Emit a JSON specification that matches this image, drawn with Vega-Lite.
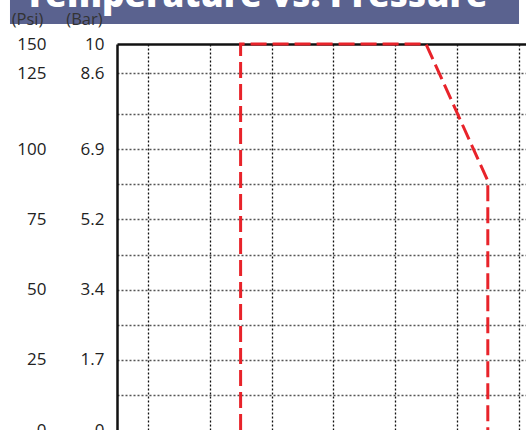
{
  "$schema": "https://vega.github.io/schema/vega-lite/v6.json",
  "autosize": {"type": "none"},
  "padding": {"left": 117, "top": 44, "right": 0, "bottom": 0},
  "width": 409,
  "height": 386,
  "background": "white",
  "config": {"view": {"stroke": null}, "font": "Open Sans"},
  "datasets": {
    "curve": [
      {"temp": 4, "level": 0},
      {"temp": 4, "level": 11},
      {"temp": 10, "level": 11},
      {"temp": 12, "level": 7.1},
      {"temp": 12, "level": 0}
    ],
    "banner": [{"title": "Temperature vs. Pressure"}]
  },
  "resolve": {"axis": {"y": "independent"}},
  "layer": [
    {
      "data": {"name": "curve"},
      "mark": {"type": "line", "color": "#e8232a", "strokeWidth": 3, "strokeDash": [16, 6]},
      "encoding": {
        "x": {
          "field": "temp", "type": "quantitative",
          "scale": {"domain": [0, 13.236], "nice": false, "zero": false},
          "axis": {
            "orient": "top", "title": null, "labels": false, "ticks": false,
            "values": [1, 2, 3, 4, 5, 6, 7, 8, 9, 10, 11, 12, 13],
            "grid": true, "gridColor": "#111", "gridDash": [2, 2], "gridWidth": 1.3,
            "domain": true, "domainColor": "#111", "domainWidth": 2.5
          }
        },
        "y": {
          "field": "level", "type": "quantitative",
          "scale": {"domain": [0, 11], "nice": false, "zero": false},
          "axis": {
            "orient": "left",
            "title": null, "labels": false, "ticks": false,
            "values": [1, 2, 3, 4, 5, 6, 7, 8, 9, 10.17],
            "grid": true, "gridColor": "#555", "gridDash": [2, 2], "gridWidth": 1.3,
            "domain": true, "domainColor": "#111", "domainWidth": 2.5
          }
        }
      }
    },
    {
      "data": {"name": "banner"},
      "mark": {"type": "rect", "color": "#5a628f"},
      "encoding": {
        "x": {"datum": -3.463, "type": "quantitative", "scale": {"domain": [0, 13.236], "nice": false, "zero": false}},
        "x2": {"datum": 13.01},
        "y": {
          "datum": 11.57, "type": "quantitative",
          "scale": {"domain": [0, 11], "nice": false, "zero": false},
          "axis": {
            "orient": "left",
            "zindex": 1,
            "values": [0, 2, 4, 6, 8, 10.17, 11],
            "labelExpr": "datum.value == 0 ? '0' : datum.value == 2 ? '1.7' : datum.value == 4 ? '3.4' : datum.value == 6 ? '5.2' : datum.value == 8 ? '6.9' : datum.value == 11 ? '10' : '8.6'",
            "grid": false, "domain": false, "ticks": false,
            "labelPadding": 13, "labelFontSize": 17, "labelColor": "#222", "labelFont": "Open Sans",
            "labelAlign": "right", "labelBaseline": "middle",
            "title": "(Bar)", "titleAngle": 0, "titleX": -33, "titleY": -25,
            "titleAlign": "center", "titleBaseline": "middle",
            "titleFontSize": 16.5, "titleFontWeight": "normal", "titleColor": "#333", "titleFont": "Open Sans"
          }
        },
        "y2": {"datum": 13}
      }
    },
    {
      "data": {"name": "banner"},
      "mark": {"type": "text", "color": "white", "font": "Open Sans", "fontWeight": 800, "fontSize": 35, "align": "center", "baseline": "alphabetic"},
      "encoding": {
        "text": {"field": "title"},
        "x": {"datum": 4.5, "type": "quantitative", "scale": {"domain": [0, 13.236], "nice": false, "zero": false}},
        "y": {
          "datum": 12.05, "type": "quantitative",
          "scale": {"domain": [0, 11], "nice": false, "zero": false},
          "axis": {
            "orient": "left",
            "zindex": 1,
            "values": [0, 2, 4, 6, 8, 10.17, 11],
            "labelExpr": "datum.value == 0 ? '0' : datum.value == 2 ? '25' : datum.value == 4 ? '50' : datum.value == 6 ? '75' : datum.value == 8 ? '100' : datum.value == 11 ? '150' : '125'",
            "grid": false, "domain": false, "ticks": false,
            "labelPadding": 71, "labelFontSize": 17, "labelColor": "#222", "labelFont": "Open Sans",
            "labelAlign": "right", "labelBaseline": "middle",
            "title": "(Psi)", "titleAngle": 0, "titleX": -90, "titleY": -25,
            "titleAlign": "center", "titleBaseline": "middle",
            "titleFontSize": 16.5, "titleFontWeight": "normal", "titleColor": "#333", "titleFont": "Open Sans"
          }
        }
      }
    }
  ]
}
